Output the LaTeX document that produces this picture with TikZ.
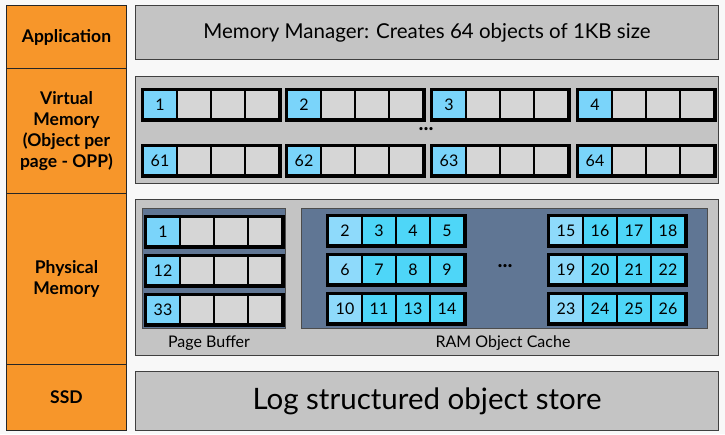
\documentclass[tikz,border=0pt]{standalone}
\usepackage{fontspec}
\setmainfont{Lato}
\definecolor{layerorange}{RGB}{247,150,42}
\definecolor{bandgray}{RGB}{196,196,196}
\definecolor{cellgray}{RGB}{214,214,214}
\definecolor{objblue}{RGB}{122,212,250}
\definecolor{cacheblue}{RGB}{78,214,248}
\definecolor{poolslate}{RGB}{96,118,148}
\definecolor{pagebg}{RGB}{248,248,248}

\tikzset{
  layer/.style={draw=black!85, line width=1pt, fill=layerorange, anchor=north west,
    minimum width=120pt, inner sep=0pt, align=center,
    font=\bfseries\fontsize{17.5}{21}\selectfont},
  band/.style={draw=black!75, line width=1pt, fill=bandgray, anchor=north west,
    minimum width=583pt, inner sep=0pt},
  pool/.style={draw=black!70, line width=0.8pt, fill=poolslate, anchor=north west, inner sep=0pt},
  cell/.style={draw=black, line width=2pt, fill=cellgray, anchor=north west,
    minimum width=34pt, minimum height=29pt, inner sep=0pt,
    font=\fontsize{16}{16}\selectfont},
  headcell/.style={fill=objblue},
  tailcell/.style={fill=cellgray},
  pageframe/.style={draw=black, line width=3pt},
  caption/.style={font=\fontsize{16}{18}\selectfont},
  gap/.style={font=\bfseries\fontsize{21}{21}\selectfont}
}

% one page (row of four cells): name, x, y, labels
\newcommand{\pagerow}[4]{%
  \foreach \lab [count=\i from 0] in {#4} {
    \ifnum\i=0
      \node[cell, headcell] (#1-\i) at ({#2+34*\i},#3) {\lab};
    \else
      \node[cell, tailcell] (#1-\i) at ({#2+34*\i},#3) {\lab};
    \fi
  }
  \draw[pageframe] (#1-0.north west) rectangle (#1-3.south east);
}

\begin{document}
\begin{tikzpicture}[x=1pt, y=-1pt]
  \fill[pagebg] (0,0) rectangle (725,434);
  \useasboundingbox (0,0) rectangle (725,434);

  % layers on the left
  \node[layer, minimum height=63pt] (app) at (6,5) {Application};
  \node[layer, minimum height=125pt] (virt) at (6,68) {Virtual\\Memory\\(Object per\\page - OPP)};
  \node[layer, minimum height=171pt] (phys) at (6,193) {Physical\\Memory};
  \node[layer, minimum height=66pt] (ssd) at (6,364) {SSD};

  % bands
  \node[band, minimum height=54pt, font=\fontsize{20.5}{24}\selectfont] (mgr) at (135,5)
    {Memory Manager: Creates 64 objects of 1KB size};
  \node[band, minimum height=107pt] (vmem) at (135,76) {};
  \node[band, minimum height=156pt] (pmem) at (135,199) {};
  \node[band, minimum height=59pt, font=\fontsize{29.5}{32}\selectfont] (store) at (135,371)
    {Log structured object store};

  % virtual memory: one object per page
  \foreach \x/\a/\b [count=\k] in {142/1/61, 286/2/62, 431/3/63, 577/4/64} {
    \pagerow{vt\k}{\x}{89}{\a,{},{},{}}
    \pagerow{vb\k}{\x}{145}{\b,{},{},{}}
  }
  \node[gap] (vdots) at (426,129) {...};

  % physical memory
  \node[pool, minimum width=143pt, minimum height=120pt] (buf) at (142,208) {};
  \node[pool, minimum width=406pt, minimum height=120pt] (cache) at (301,208) {};
  \pagerow{pb1}{145}{216}{1,{},{},{}}
  \pagerow{pb2}{145}{255}{12,{},{},{}}
  \pagerow{pb3}{145}{294}{33,{},{},{}}

  \begin{scope}[tailcell/.style={fill=cacheblue}, headcell/.style={fill=objblue!85!white}]
    \pagerow{ca1}{327}{215}{2,3,4,5}
    \pagerow{ca2}{327}{254}{6,7,8,9}
    \pagerow{ca3}{327}{293}{10,11,13,14}
    \pagerow{cb1}{548}{215}{15,16,17,18}
    \pagerow{cb2}{548}{254}{19,20,21,22}
    \pagerow{cb3}{548}{293}{23,24,25,26}
  \end{scope}
  \node[gap] (cdots) at (505,266) {...};

  \node[caption] (buflabel) at (209,343) {Page Buffer};
  \node[caption] (cachelabel) at (503,343) {RAM Object Cache};
\end{tikzpicture}
\end{document}
